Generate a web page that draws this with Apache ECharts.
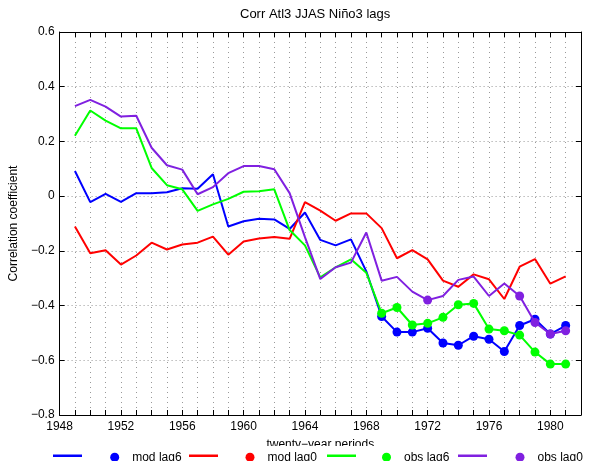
<!DOCTYPE html>
<html>
<head>
<meta charset="utf-8">
<script src="https://cdn.jsdelivr.net/npm/echarts@6/dist/echarts.min.js"></script>
<style>html,body{margin:0;padding:0;background:#fff}#c{width:590px;height:461px}</style>
</head>
<body>
<div id="c"></div>
<script>
const years = [1949,1950,1951,1952,1953,1954,1955,1956,1957,1958,1959,1960,1961,1962,1963,1964,1965,1966,1967,1968,1969,1970,1971,1972,1973,1974,1975,1976,1977,1978,1979,1980,1981];
const modLag6 = [0.092,-0.022,0.008,-0.021,0.011,0.011,0.014,0.029,0.027,0.080,-0.111,-0.092,-0.083,-0.085,-0.120,-0.060,-0.160,-0.180,-0.158,-0.275,-0.440,-0.497,-0.497,-0.483,-0.537,-0.545,-0.512,-0.523,-0.568,-0.473,-0.450,-0.504,-0.473];
const modLag0 = [-0.111,-0.209,-0.198,-0.250,-0.217,-0.170,-0.195,-0.177,-0.170,-0.148,-0.214,-0.166,-0.155,-0.149,-0.156,-0.022,-0.053,-0.090,-0.063,-0.063,-0.117,-0.227,-0.197,-0.231,-0.309,-0.331,-0.286,-0.304,-0.376,-0.258,-0.230,-0.320,-0.293];
const obsLag6 = [0.221,0.313,0.276,0.248,0.248,0.103,0.040,0.025,-0.054,-0.030,-0.010,0.016,0.018,0.025,-0.124,-0.180,-0.297,-0.260,-0.231,-0.280,-0.428,-0.407,-0.471,-0.465,-0.443,-0.397,-0.392,-0.486,-0.492,-0.508,-0.570,-0.614,-0.614];
const obsLag0 = [0.329,0.352,0.327,0.291,0.294,0.177,0.113,0.097,0.007,0.033,0.084,0.110,0.110,0.098,0.011,-0.150,-0.303,-0.260,-0.243,-0.133,-0.309,-0.295,-0.349,-0.380,-0.365,-0.306,-0.294,-0.365,-0.319,-0.365,-0.462,-0.504,-0.492];
// years whose point is drawn with a dot
const modLag6Dots = [1969,1970,1971,1972,1973,1974,1975,1976,1977,1978,1979,1980,1981];
const modLag0Dots = [];
const obsLag6Dots = [1969,1970,1971,1972,1973,1974,1975,1976,1977,1978,1979,1980,1981];
const obsLag0Dots = [1972,1978,1979,1980,1981];
const xTickLabels = [1948,1952,1956,1960,1964,1968,1972,1976,1980];
const seriesNames = ['mod lag6','mod lag0','obs lag6','obs lag0'];
const colors = ['#0000ff','#ff0000','#00ff00','#8020e0'];

const allVals = [modLag6, modLag0, obsLag6, obsLag0];
const allDots = [modLag6Dots, modLag0Dots, obsLag6Dots, obsLag0Dots];
const FONT = '"Liberation Sans", Arial, Helvetica, sans-serif';

const series = [];
allVals.forEach((vals, i) => {
  series.push({
    name: '_' + seriesNames[i], type: 'line', xAxisIndex: 0, yAxisIndex: 0,
    data: years.map((y, k) => [y, vals[k]]),
    color: colors[i], symbol: 'none', lineStyle: {width: 2, color: colors[i]},
    silent: true, z: 3 + i
  });
  series.push({
    name: seriesNames[i], type: 'scatter', xAxisIndex: 0, yAxisIndex: 0,
    data: allDots[i].map(y => [y, vals[years.indexOf(y)]]),
    color: colors[i], symbol: 'circle', symbolSize: 9,
    itemStyle: {color: colors[i], opacity: 1}, silent: true, z: 3 + i
  });
});

const lineLeft = [53, 189, 327, 458];
const dotCenter = [122.7, 258, 394.5, 528];
const legends = [];
seriesNames.forEach((n, i) => {
  legends.push({
    data: [{name: '_' + n, icon: 'rect'}], left: lineLeft[i], top: 454.5,
    itemWidth: 29, itemHeight: 2.5, padding: 0, formatter: () => '', selectedMode: false, z: 10
  });
  legends.push({
    data: [{name: n, icon: 'circle', itemStyle: {opacity: 1}}], left: dotCenter[i] - 12.5, top: 451.2,
    itemWidth: 25, itemHeight: 9, padding: 0, selectedMode: false, z: 10,
    textStyle: {fontFamily: FONT, fontSize: 12, color: '#000'}
  });
});

const chart = echarts.init(document.getElementById('c'), null, {renderer: 'canvas'});
chart.setOption({
  backgroundColor: '#fff',
  animation: false,
  title: {
    text: 'Corr Atl3 JJAS Niño3 lags', left: 240, top: 8, padding: 0,
    textStyle: {fontFamily: FONT, fontSize: 13, fontWeight: 'normal', color: '#000'}
  },
  grid: {left: 55, right: 9, top: 32, bottom: 46, containLabel: false},
  legend: legends,
  graphic: [{type: 'rect', shape: {x: 40, y: 446, width: 550, height: 15}, style: {fill: '#fff'}, z: 5, silent: true}],
  xAxis: [{
    type: 'value', min: 1948, max: 1982, interval: 1, position: 'bottom',
    name: 'twenty\u2212year periods', nameLocation: 'middle', nameGap: 24,
    nameTextStyle: {fontFamily: FONT, fontSize: 12, color: '#000'},
    axisLine: {show: true, onZero: false, lineStyle: {color: '#000', width: 1}},
    axisTick: {show: true, inside: true, length: 5, lineStyle: {color: '#000'}},
    axisLabel: {
      fontFamily: FONT, fontSize: 12, color: '#000', margin: 6, showMinLabel: true, showMaxLabel: false,
      formatter: v => xTickLabels.indexOf(Math.round(v)) >= 0 ? String(Math.round(v)) : ''
    },
    splitLine: {show: true, lineStyle: {color: '#999', width: 1, type: [1, 4]}}
  }, {
    type: 'value', min: 1948, max: 1982, interval: 1, position: 'top',
    axisLine: {show: true, onZero: false, lineStyle: {color: '#000', width: 1}},
    axisTick: {show: true, inside: true, length: 5, lineStyle: {color: '#000'}},
    axisLabel: {show: false}, splitLine: {show: false}
  }],
  yAxis: [{
    type: 'value', min: -0.8, max: 0.6, interval: 0.2, position: 'left',
    name: 'Correlation coefficient', nameLocation: 'middle', nameGap: 34,
    nameTextStyle: {fontFamily: FONT, fontSize: 12, color: '#000'},
    axisLine: {show: true, onZero: false, lineStyle: {color: '#000', width: 1}},
    axisTick: {show: true, inside: true, length: 5, lineStyle: {color: '#000'}},
    axisLabel: {
      fontFamily: FONT, fontSize: 12, color: '#000', margin: 5,
      formatter: v => Math.abs(v) < 1e-9 ? '0' : v.toFixed(1).replace('-', '\u2212')
    },
    splitLine: {show: true, lineStyle: {color: '#999', width: 1, type: [1, 3]}}
  }, {
    type: 'value', min: -0.8, max: 0.6, interval: 0.2, position: 'right',
    axisLine: {show: true, onZero: false, lineStyle: {color: '#000', width: 1}},
    axisTick: {show: true, inside: true, length: 5, lineStyle: {color: '#000'}},
    axisLabel: {show: false}, splitLine: {show: false}
  }],
  series: series
});
</script>
</body>
</html>
